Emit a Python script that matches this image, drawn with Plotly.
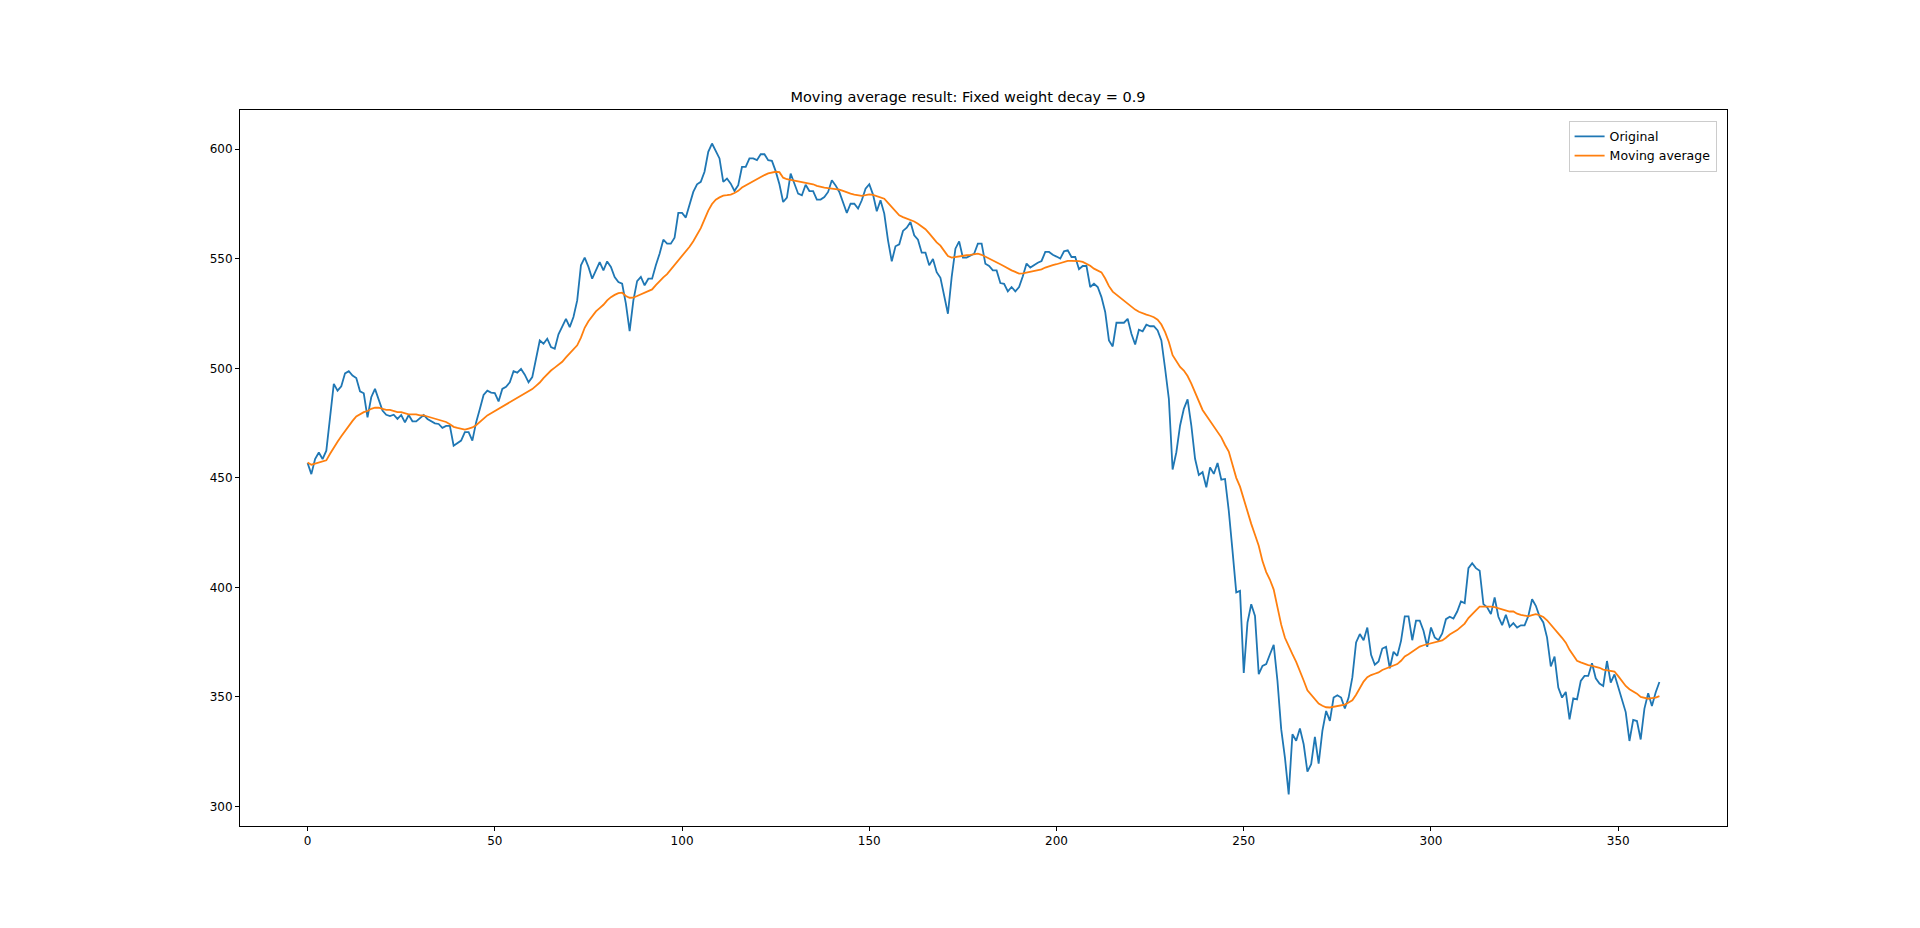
import plotly.graph_objects as go

original = (
    [456.8,451.7,458.6,461.6,458.6,462.4,477.6,492.9,489.8,491.8,497.7,
     498.7,496.7,495.6,489.5,488.6,477.6,486.8,490.6,486.0,480.7,
     478.8,478.2,478.8,476.9,478.7,475.3,478.7,475.8,475.8,477.2,
     478.7,476.9,475.8,474.9,474.6,472.8,473.7,473.7,464.7,
     465.8,467.0,470.9,470.9,467.0,475.3,481.4,487.8,489.8,488.9,
     488.7,484.9,490.6,491.6,493.6,498.7,498.0,499.7,497.1,493.6,496.0]
    + [503.6,512.7,511.2,513.5,509.7,508.9,515.5,518.8,522.6,
       518.8,523.4,531.0,547.0,550.5,546.3,540.9,544.7,548.5,544.7,
       548.8,546.3,541.7,539.4,538.6,529.5,517.0,531.0,539.8,541.7,
       537.9,540.9,540.9,547.0,552.3,558.7,556.9,556.9,559.6,570.9,
       570.9,568.8,575.2,580.5,584.0,585.1,589.7,598.8,602.6,599.3,
       595.8,585.1,586.6,584.3,581.0,583.6,591.9,591.9,595.8,595.8,
       595.0,597.7,597.7,595.0,594.7,590.0,584.0]
    + [575.9,577.9,588.9,584.3,579.7,579.0,583.8,580.9,580.9,577.0,577.0,578.2,580.5,
       585.8,583.5,580.5,575.9,570.9,575.1,575.1,572.9,576.7,582.0,
       584.0,579.3,571.7,576.7,570.6,558.4,548.8,555.7,556.6,562.7,
       564.2,566.8,560.7,558.7,552.8,552.8,547.0,549.9,543.9,
       541.3,533.3,524.9,541.6,554.6,557.9,550.5,550.5,551.5,552.3,
       556.9,556.9,547.7,546.7,544.7,544.7,538.9,538.6,535.1,537.1,535.1]
    + [537.1,542.0,547.8,546.0,547.3,548.2,549.0,553.1,553.1,551.8,551.0,550.1,
       553.4,553.9,550.8,550.8,545.2,546.7,546.7,537.1,538.6,537.1,532.5,525.7,
       512.7,510.0,520.8,520.8,520.8,522.6,515.8,510.9,517.6,516.9,519.9,519.2,
       519.2,517.3,512.7,499.8,486.1,453.8,461.7,473.9,481.5,485.8,473.9,
       458.7,451.3,452.6,445.7,454.8,451.8,456.8,449.2,449.5,435.0,416.7,397.7,
       398.4,361.0,384.0,392.3,387.0]
    + [360.4,364.2,365.0,369.5,373.8,357.4,335.3,322.3,305.5,333.0,330.0,335.6,
       328.4,315.9,319.3,331.8,319.6,334.5,343.6,339.1,349.7,350.8,349.7,344.7,
       349.7,358.9,374.9,378.7,375.9,381.7,369.2,364.7,366.2,372.1,372.9,363.1,
       370.6,368.8,375.6,386.8,386.8,375.9,384.8,384.8,380.2,372.9,381.7,377.2,
       375.9,379.0,385.5,386.6,385.8,389.0,393.6,392.8,408.8,411.0,408.8,407.6,
       392.4,390.9,387.8,395.4,386.6,382.8,387.5,382.0]
    + [383.7,381.7,382.7,382.7,387.0,394.6,391.6,386.7,384.0,377.1,363.9,368.4,
       354.3,349.7,352.3,339.8,349.4,348.9,357.3,359.6,359.6,365.4,358.5,356.1,
       355.0,366.4,356.5,360.3,354.3,348.5,343.1,329.9,339.5,339.0,330.6,344.7,
       351.7,345.9,352.0,356.8]
)

moving_average = (
    [457,456,456.5,457,457.5,458,461,464,466.5,469,471.5,474,476,478,479,480,
     480.5,481.5,482,482,481.5,481,481,480.5,480,480,479.5,479,479,479,478.5,
     478.5,478,477.5,477,476.5,476,475.5,474.5,473.3,472.8,472.5,472]
    + [472.5,473,474,475.5,477,478.5,479.5,480.5,481.5,482.5,483.5,484.5,485.5,
       486.5,487.5,488.5,489.5,490.5,492,493.5,495.5,497.5,499,500.3]
    + [501.5,503,505,507,508.5,510.5,514,518.5,521.5,524,526,527.5,529,531,532.5,
       533.5,534.3,534.5,533,532.2,532.3,533,533.7,534.5,535.2,536,538,540,541.5,
       543,545,547,549,551,553,555.5,558,561,564,568,572,575,577,578,578.8,579,
       579.3,580,581,582.5,583.5,584.5,585.5,586.5,587.3,588.2,589,589.5,589.7,589.5]
    + [587,586.3,586,585.8,585.5,585.1,584.7,584.4,584,583.3,582.8,582.5,582.2,
       582,581.8,581.6,581,580.3,579.7,579.3,579,578.7,579,579.4,579.2,578.7,578,
       577.4,575.5,573.5,571.5,569.8,569,568.4,567.9,567,566,564.8,563.5,561.6,
       559.3,557.5,556,553.5,551.2,550.5,550.8,551.3,551.5,551.6,551.8,552,552.3,
       551.8,551,550,549.2,548.3,547.5,546.6,545.6,544.7,544,543.2]
    + [543.3,543.7,544,544.3,544.7,545.2,546,546.7,547.1,547.5,547.9,548.4,549,
       549,549,548.9,548.6,547.8,546.8,545.5,544.7,543.8,541,537.5,535,533.6,532.4,
       531,529.5,528,526.8,525.8,525,524.5,524,523.3,522.2,520,516.5,512,506,
       503,500.6,499,496.5,493,489,485,481,478.5,476,474,471.5,468.5,465,462,456,450]
    + [446,440,434,429,424,419,412,407,403.5,399,391,383,377,373,369.5,366,362,
       357.5,353,351,349.5,347,346,345.3,345.2,345.6,346,346.2,346.5,347.5,348.5,
       351,354,357,359,360,360.6,361.2,362.3,363,363.7,364.4,365,366.5,368.5,369.5,
       370.8,372,373,373.6,374,374.4,374.8,375.3,375.8,377,378.5,379.5,380.5,382,
       383.5,386,388,389.5,391.2,391.3,391.2,391.2,391,390.5,390,389.5,389]
    + [389,388,387.5,387,386.8,387.3,387.8,387.3,386.5,385,383,381,379.5,377,374.8,
       371.5,369,366.5,365.8,365,364.5,364.2,363.9,363.3,362.5,362.2,362,361.6,
       359.5,357,355,353.5,352.5,351.5,350,349.5,349.2,349.5,349.7,350.4]
)

x_ticks = [0, 50, 100, 150, 200, 250, 300, 350]
y_ticks = [300, 350, 400, 450, 500, 550, 600]
title_text = "Moving average result: Fixed weight decay = 0.9"

n = max(len(original), len(moving_average)) - 1

fig = go.Figure()
fig.add_trace(go.Scatter(x=list(range(len(original))), y=original, mode="lines",
                         name="Original", line=dict(color="#1f77b4", width=1.8)))
fig.add_trace(go.Scatter(x=list(range(len(moving_average))), y=moving_average, mode="lines",
                         name="Moving average", line=dict(color="#ff7f0e", width=1.8)))

axis_common = dict(showgrid=False, zeroline=False, showline=True, linecolor="black",
                   linewidth=1, mirror=True, ticks="outside", ticklen=4, tickcolor="black",
                   tickfont=dict(family="DejaVu Sans", size=12, color="black"))
fig.update_layout(
    width=1920, height=928,
    paper_bgcolor="white", plot_bgcolor="white",
    margin=dict(l=232, r=201, t=102, b=110),
    title=dict(text=title_text, x=0.5, xanchor="center", y=1 - 89/928, yanchor="middle",
               font=dict(family="DejaVu Sans", size=14.5, color="black")),
    xaxis=dict(range=[-0.05*n, 1.05*n], tickvals=x_ticks, **axis_common),
    yaxis=dict(range=[291.1, 617.9], tickvals=y_ticks, **axis_common),
    legend=dict(x=0.993, y=0.985, xanchor="right", yanchor="top",
                bordercolor="#cccccc", borderwidth=1, bgcolor="rgba(255,255,255,0.8)",
                font=dict(family="DejaVu Sans", size=12.5, color="black")),
    showlegend=True,
)
fig.write_html("out.html")
